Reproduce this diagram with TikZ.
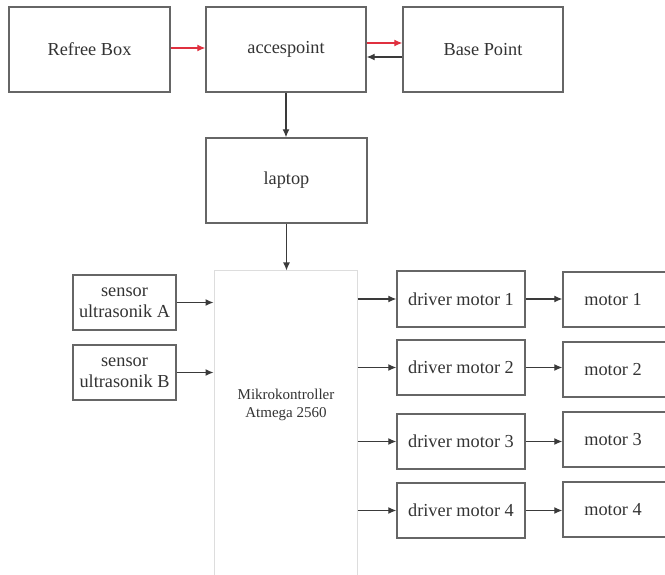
\documentclass[tikz,border=0pt]{standalone}
\usepackage{fontspec}
\setmainfont{Liberation Serif}
\usetikzlibrary{arrows.meta}
\definecolor{boxline}{HTML}{666666}
\definecolor{txt}{HTML}{333333}
\definecolor{arrline}{HTML}{3A3A3A}
\definecolor{redline}{HTML}{E0303F}
\definecolor{lightbox}{HTML}{DDDDDD}
\tikzset{
  blk/.style={draw=boxline, line width=1.4pt, rectangle, inner sep=0pt, align=center,
    text=txt, font=\fontsize{18.3}{21}\selectfont},
  arr/.style={draw=arrline, line width=1.2pt, -{Latex[length=8pt,width=7pt]}},
  redarr/.style={draw=redline, line width=1.2pt, -{Latex[length=8pt,width=7pt]}},
}
\begin{document}
\begin{tikzpicture}[x=1pt,y=-1pt]
\useasboundingbox (0,0) rectangle (665,575);
\clip (0,0) rectangle (665,575);
\fill[white] (0,0) rectangle (665,575);

\node[blk, minimum width=161pt, minimum height=85pt] (refree) at (89.5,49.5) {Refree Box};
\node[blk, minimum width=160pt, minimum height=85pt] (acc) at (286,49.5) {accespoint};
\node[blk, minimum width=160pt, minimum height=85pt] (base) at (483,49.5) {Base Point};
\node[blk, minimum width=161pt, minimum height=85pt] (lap) at (286.5,180.5) {laptop};

\node[draw=lightbox, line width=1pt, rectangle, minimum width=143pt, minimum height=330pt, inner sep=0pt] (mikro) at (285.5,436) {};
\node[text=txt, align=center, font=\fontsize{15}{18}\selectfont] (mikrotxt) at (286,405) {Mikrokontroller\\Atmega 2560};

\node[blk, minimum width=103pt, minimum height=55pt] (sA) at (124.5,302.5) {sensor\\ultrasonik A};
\node[blk, minimum width=103pt, minimum height=55pt] (sB) at (124.5,372.5) {sensor\\ultrasonik B};

\node[blk, minimum width=128pt, minimum height=56pt] (d1) at (461,299) {driver motor 1};
\node[blk, minimum width=128pt, minimum height=55pt] (d2) at (461,367.5) {driver motor 2};
\node[blk, minimum width=128pt, minimum height=55pt] (d3) at (461,441.5) {driver motor 3};
\node[blk, minimum width=128pt, minimum height=55pt] (d4) at (461,510.5) {driver motor 4};

\node[blk, minimum width=107pt, minimum height=55pt] (m1) at (616.5,299.5) {\hspace*{-7pt}motor 1};
\node[blk, minimum width=107pt, minimum height=55pt] (m2) at (616.5,369.5) {\hspace*{-7pt}motor 2};
\node[blk, minimum width=107pt, minimum height=55pt] (m3) at (616.5,439.5) {\hspace*{-7pt}motor 3};
\node[blk, minimum width=107pt, minimum height=55pt] (m4) at (616.5,509.5) {\hspace*{-7pt}motor 4};

\draw[redarr] ([yshift=1.5pt]refree.east) -- ([yshift=1.5pt]acc.west);
\draw[redarr] ([yshift=6.5pt]acc.east) -- ([yshift=6.5pt]base.west);
\draw[arr] ([yshift=-7.5pt]base.west) -- ([yshift=-7.5pt]acc.east);
\draw[arr] (acc.south) -- (lap.north -| acc.south);
\draw[arr] (lap.south) -- (mikro.north -| lap.south);

\draw[arr] (sA.east) -- (sA.east -| mikro.west);
\draw[arr] (sB.east) -- (sB.east -| mikro.west);

\draw[arr] (mikro.east |- d1.west) -- (d1.west);
\draw[arr] (mikro.east |- d2.west) -- (d2.west);
\draw[arr] (mikro.east |- d3.west) -- (d3.west);
\draw[arr] (mikro.east |- d4.west) -- (d4.west);

\draw[arr] (d1.east) -- (d1.east -| m1.west);
\draw[arr] (d2.east) -- (d2.east -| m2.west);
\draw[arr] (d3.east) -- (d3.east -| m3.west);
\draw[arr] (d4.east) -- (d4.east -| m4.west);
\end{tikzpicture}
\end{document}
